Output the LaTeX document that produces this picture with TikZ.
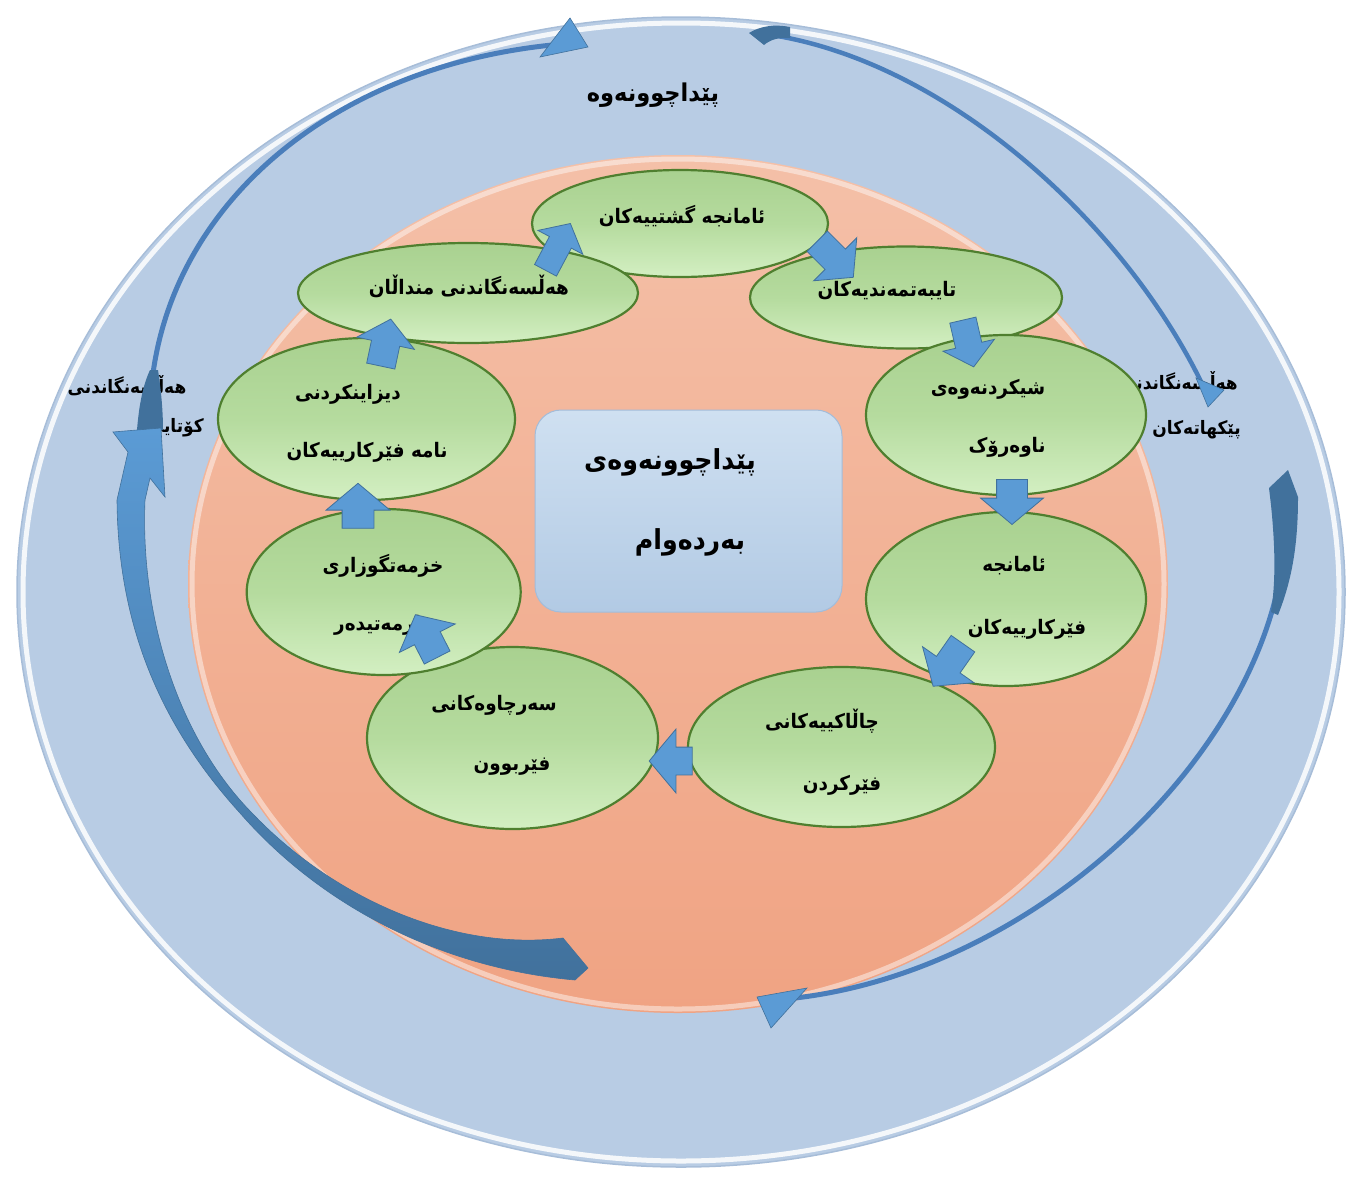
\documentclass[tikz,border=0pt]{standalone}
\usepackage{fontspec}
\newfontfamily\ku[Script=Arabic,FakeStretch=0.92]{DejaVu Sans}
\TeXXeTstate=1
\usetikzlibrary{shapes.geometric,shapes.arrows}
\definecolor{outerblue}{HTML}{B8CCE4}
\definecolor{outerrim}{HTML}{A7BDD8}
\definecolor{saltop}{HTML}{F4C0A8}
\definecolor{salbot}{HTML}{F0A383}
\definecolor{boxtop}{HTML}{CFE0F1}
\definecolor{boxbot}{HTML}{B2CAE4}
\definecolor{boxline}{HTML}{A3BCD9}
\definecolor{gtop}{HTML}{A9D190}
\definecolor{gmid}{HTML}{B5DB9E}
\definecolor{gbot}{HTML}{D3EFC2}
\definecolor{gborder}{HTML}{4F7F2F}
\definecolor{arrfill}{HTML}{5B9BD5}
\definecolor{arrline}{HTML}{41719C}
\definecolor{bigmid}{HTML}{4A7EBB}
\definecolor{bigdark}{HTML}{41719C}
\newcommand{\kt}[1]{\beginR #1\endR}
\begin{document}
\begin{tikzpicture}[x=1pt,y=-1pt,
  gell/.style n args={2}{ellipse, draw=gborder, line width=2.2pt, top color=gtop, bottom color=gbot, middle color=gmid, minimum width=#1, minimum height=#2, inner sep=0pt},
  lbl/.style={font=\ku\bfseries\fontsize{20}{24}\selectfont, inner sep=0pt, text=black},
  sidelbl/.style={font=\ku\bfseries\fontsize{18.5}{22}\selectfont, inner sep=0pt, text=black},
  toplbl/.style={font=\ku\bfseries\fontsize{24.5}{28}\selectfont, inner sep=0pt, text=black},
  biglbl/.style={font=\ku\bfseries\fontsize{27.5}{32}\selectfont, inner sep=0pt, text=black},
  barr/.style={single arrow, draw=arrline, fill=arrfill, line width=0.8pt, inner xsep=0pt, single arrow tip angle=100}
]
\useasboundingbox (0,0) rectangle (1352,1176);
% outer ellipse
\fill[outerblue] (681,592) ellipse [x radius=664, y radius=575];
\draw[outerrim, line width=1.5pt] (681,592) ellipse [x radius=664, y radius=575];
\draw[white, opacity=0.85, line width=5pt] (681,592) ellipse [x radius=658, y radius=569];
% outer labels
\node[toplbl] (ttop) at (653,95) {\kt{پێداچوونەوە}};
\node[sidelbl] (tl1) at (127,386) {\kt{هەڵسەنگاندنی}};
\node[sidelbl, anchor=east] (tl2) at (204,428) {\kt{کۆتایی}};
\node[sidelbl, anchor=east] (tr1) at (1238,382) {\kt{هەڵسەنگاندنی}};
\node[sidelbl, anchor=east] (tr2) at (1241,430) {\kt{پێکهاتەکان}};
% salmon ellipse
\shade[top color=saltop, bottom color=salbot] (678,584) ellipse [x radius=490, y radius=429];
\draw[white, opacity=0.45, line width=5pt] (678,584) ellipse [x radius=486, y radius=425];
% centre box
\node[draw=boxline, line width=1pt, rounded corners=26pt, top color=boxtop, bottom color=boxbot, minimum width=307pt, minimum height=202pt, inner sep=0pt] (box) at (688.5,511) {};
\node[biglbl] (tb1) at (670,462) {\kt{پێداچوونەوەی}};
\node[biglbl] (tb2) at (690,542) {\kt{بەردەوام}};
% green ellipses
\node[gell={296pt}{107pt}] (e1) at (680,223.5) {};
\node[gell={312pt}{102pt}] (e2) at (906,297.5) {};
\node[gell={280pt}{160pt}] (e3) at (1006,415) {};
\node[gell={280pt}{174pt}] (e4) at (1006,599) {};
\node[gell={307pt}{160pt}] (e5) at (841.5,747) {};
\node[gell={291pt}{182pt}] (e6) at (512.5,738) {};
\node[gell={274pt}{166pt}] (e7) at (383.7,592) {};
\node[gell={297pt}{162pt}] (e8) at (366.5,419) {};
\node[gell={340pt}{100pt}] (e9) at (468,293) {};
% ellipse labels
\node[lbl] (t1) at (682,216) {\kt{ئامانجە گشتییەکان}};
\node[lbl] (t2) at (887,291) {\kt{تایبەتمەندیەکان}};
\node[lbl] (t3a) at (988,389) {\kt{شیکردنەوەی}};
\node[lbl] (t3b) at (1007,447) {\kt{ناوەرۆک}};
\node[lbl] (t4a) at (1014,566) {\kt{ئامانجە}};
\node[lbl] (t4b) at (1027,629) {\kt{فێرکارییەکان}};
\node[lbl] (t5a) at (822,721) {\kt{چاڵاکییەکانی}};
\node[lbl] (t5b) at (842,785) {\kt{فێرکردن}};
\node[lbl] (t6a) at (494,705) {\kt{سەرچاوەکانی}};
\node[lbl] (t6b) at (512,767) {\kt{فێربوون}};
\node[lbl] (t7a) at (383,566) {\kt{خزمەتگوزاری}};
\node[lbl, anchor=west] (t7b) at (334,625) {\kt{یارمەتیدەر}};
\node[lbl] (t8a) at (348,394) {\kt{دیزاینکردنی}};
\node[lbl] (t8b) at (367,452) {\kt{نامە فێرکارییەکان}};
\node[lbl] (t9) at (469,286) {\kt{هەڵسەنگاندنی منداڵان}};
% small block arrows
\node[barr, minimum height=53pt, inner ysep=12pt, single arrow head extend=13pt, rotate=62] (a1) at (555.5,251.5) {};
\node[barr, minimum height=51pt, inner ysep=14pt, single arrow head extend=16pt, rotate=-45] (a2) at (831,255) {};
\node[barr, minimum height=48pt, inner ysep=13pt, single arrow head extend=13pt, rotate=-77] (a3) at (967,338) {};
\node[barr, minimum height=45pt, inner ysep=15pt, single arrow head extend=16pt, rotate=-90] (a4) at (1012,495.5) {};
\node[barr, minimum height=52pt, inner ysep=14pt, single arrow head extend=17pt, rotate=-125] (a5) at (951.5,660) {};
\node[barr, minimum height=43pt, inner ysep=13.5pt, single arrow head extend=18pt, rotate=180] (a6) at (676.5,761) {};
\node[barr, minimum height=48pt, inner ysep=14pt, single arrow head extend=17pt, rotate=117] (a7) at (429,641.5) {};
\node[barr, minimum height=45pt, inner ysep=15.5pt, single arrow head extend=16pt, rotate=90] (a8) at (358,512.5) {};
\node[barr, minimum height=48pt, inner ysep=14pt, single arrow head extend=15pt, rotate=78] (a9) at (384.5,348.5) {};
% big arrow A (top left)
\draw[bigmid, line width=5pt] (150,428) .. controls (145,230) and (310,70) .. (552,45);
\fill[bigdark] (137,430) .. controls (139,405) and (143,385) .. (150,370) -- (158,370) .. controls (161,390) and (163,410) .. (163,430) -- cycle;
\fill[arrfill, draw=arrline, line width=0.6pt] (570,18) -- (588,47) -- (540,57) -- cycle;
% big arrow B (top right)
\draw[bigmid, line width=4.5pt] (765,34) .. controls (950,60) and (1130,230) .. (1205,390);
\fill[bigdark] (749,33) .. controls (760,26) and (775,24) .. (790,27) -- (790,38) .. controls (778,37) and (770,40) .. (764,45) -- cycle;
\fill[arrfill, draw=arrline, line width=0.6pt] (1196,378) -- (1224,390) -- (1208,407) -- cycle;
% big arrow C (right)
\draw[bigmid, line width=5pt] (1285,500) .. controls (1300,720) and (1055,968) .. (795,998);
\fill[bigdark] (1269,488) -- (1288,470) -- (1298,497) .. controls (1298,545) and (1292,580) .. (1278,615) -- (1271,612) .. controls (1276,580) and (1275,545) .. (1271,505) -- cycle;
\fill[arrfill, draw=arrline, line width=0.6pt] (807,988) -- (757,997) -- (771,1028) -- cycle;
% big arrow D (bottom left)
\shade[top color=arrfill, bottom color=bigdark, draw=arrline, line width=0.6pt]
  (575,980) .. controls (440,968) and (320,905) .. (240,813)
  .. controls (160,725) and (118,625) .. (117,500) -- (128,452) -- (113,432) -- (161,428) -- (165,497) -- (150,478) -- (145,500)
  .. controls (140,620) and (180,740) .. (252,813)
  .. controls (330,895) and (450,952) .. (563,938) -- (588,968) -- cycle;
\end{tikzpicture}
\end{document}
